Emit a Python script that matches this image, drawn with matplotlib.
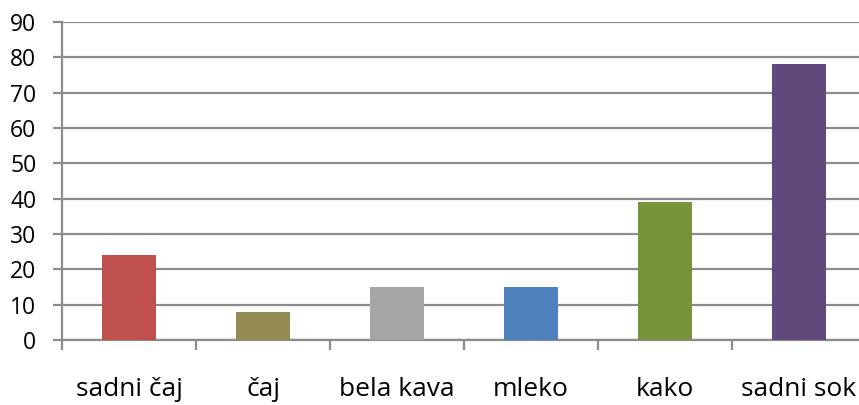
import matplotlib
matplotlib.use("Agg")
import matplotlib.pyplot as plt
import numpy as np

categories = ["sadni čaj", "čaj", "bela kava", "mleko", "kako", "sadni sok"]
values = [24, 8, 15, 15, 39, 78]
colors = ["#C0504D", "#948A54", "#A5A5A5", "#4F81BD", "#77933C", "#604A7B"]
y_ticks = [0, 10, 20, 30, 40, 50, 60, 70, 80, 90]

plt.rcParams["font.family"] = ["Open Sans", "DejaVu Sans"]

W, H = 859, 405
fig = plt.figure(figsize=(W / 100, H / 100), dpi=100)
left, right = 62, 866
bottom, top = 340, 22
ax = fig.add_axes([left / W, (H - bottom) / H, (right - left) / W, (bottom - top) / H])

x = np.arange(len(categories))
ax.bar(x, values, width=0.40, color=colors, zorder=3)

ax.set_xlim(-0.5, len(categories) - 0.5)
ax.set_ylim(0, 90)
ax.set_yticks(y_ticks)
ax.set_yticklabels([str(v) for v in y_ticks])

grid_c = "#8C8C8C"
ax.yaxis.grid(True, color=grid_c, linewidth=1.6, zorder=0)
ax.set_axisbelow(True)

for s in ["top", "right"]:
    ax.spines[s].set_visible(False)
for s in ["left", "bottom"]:
    ax.spines[s].set_color(grid_c)
    ax.spines[s].set_linewidth(1.6)

# category boundaries as major ticks, labels on centred minor ticks
ax.set_xticks(np.arange(-0.5, len(categories), 1.0))
ax.set_xticklabels([])
ax.set_xticks(x, minor=True)
ax.set_xticklabels(categories, minor=True)
ax.tick_params(axis="x", which="major", length=7.5, width=1.6, color=grid_c)
ax.tick_params(axis="x", which="minor", length=0, pad=27, labelsize=19, labelcolor="black")
ax.tick_params(axis="y", length=6.5, width=1.6, color=grid_c, pad=12, labelsize=16.5, labelcolor="black")

# keep the last label inside the canvas
ax.get_xticklabels(minor=True)[-1].set_x(len(categories) - 1.04)

fig.savefig("out.png", dpi=100)
